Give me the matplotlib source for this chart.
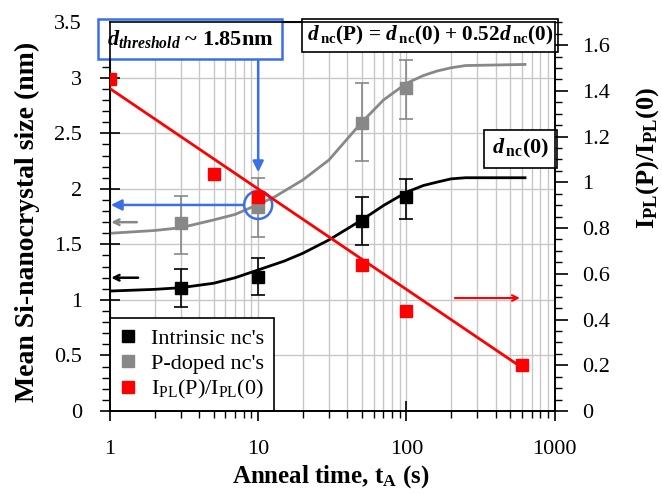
import matplotlib
matplotlib.use("Agg")
import matplotlib.pyplot as plt
import matplotlib.transforms as mtrans
from matplotlib.ticker import MultipleLocator, NullFormatter

plt.rcParams['font.family'] = ['Liberation Serif', 'DejaVu Serif']
plt.rcParams['mathtext.fontset'] = 'custom'
plt.rcParams['mathtext.rm'] = 'Liberation Serif'
plt.rcParams['mathtext.it'] = 'Liberation Serif:italic'
plt.rcParams['mathtext.bf'] = 'Liberation Serif:bold'
plt.rcParams['mathtext.bfit'] = 'Liberation Serif:bold:italic'

# Data
t_intr = [3, 10, 50, 100]
d_intr = [1.11, 1.21, 1.71, 1.93]
d_intr_lo = [0.94, 1.04, 1.49, 1.73]
d_intr_hi = [1.28, 1.38, 1.93, 2.09]

t_p = [3, 10, 50, 100]
d_p = [1.69, 1.84, 2.59, 2.91]
d_p_lo = [1.41, 1.57, 2.25, 2.63]
d_p_hi = [1.94, 2.10, 2.95, 3.16]

t_pl = [1, 5, 10, 50, 100, 600]
r_pl = [1.45, 1.035, 0.935, 0.638, 0.437, 0.20]

t_curve_i = [1, 2, 3, 5, 7, 10, 15, 20, 30, 50, 70, 100, 130, 160, 200, 250, 630]
c_intr = [1.08, 1.095, 1.11, 1.15, 1.20, 1.27, 1.35, 1.42, 1.54, 1.72, 1.85, 1.97, 2.03, 2.06, 2.09, 2.10, 2.10]

t_curve_p = [1, 2, 3, 5, 7, 10, 13, 20, 30, 50, 70, 100, 130, 160, 200, 250, 630]
c_p = [1.60, 1.625, 1.65, 1.72, 1.77, 1.86, 1.93, 2.08, 2.26, 2.60, 2.80, 2.95, 3.02, 3.06, 3.09, 3.11, 3.12]

t_fit = [1, 600]
r_fit = [1.41, 0.19]

fig = plt.figure(figsize=(6.62, 4.94), dpi=100)
ax = fig.add_axes([0.166, 0.168, 0.672, 0.787])
ax2 = ax.twinx()

ax.set_xscale('log')
ax.set_xlim(1, 1000)
ax.set_ylim(0, 3.5)
ax2.set_ylim(0, 1.7)

ax.grid(True, which='both', axis='x', color='#c8c8c8', lw=1)
ax.grid(True, which='major', axis='y', color='#c8c8c8', lw=1)
ax.set_axisbelow(True)

ax.plot(t_curve_p, c_p, color='#888888', lw=2, zorder=3)
ax.plot(t_curve_i, c_intr, color='black', lw=2, zorder=3)

ax.errorbar(t_p, d_p, yerr=[[a - b for a, b in zip(d_p, d_p_lo)], [b - a for a, b in zip(d_p, d_p_hi)]],
            fmt='none', ecolor='#888888', elinewidth=1.2, capsize=5, capthick=1.2, zorder=3)
ax.errorbar(t_intr, d_intr, yerr=[[a - b for a, b in zip(d_intr, d_intr_lo)], [b - a for a, b in zip(d_intr, d_intr_hi)]],
            fmt='none', ecolor='black', elinewidth=1.2, capsize=5, capthick=1.2, zorder=3)

h1, = ax.plot(t_intr, d_intr, 's', color='black', ms=9, zorder=4, label="Intrinsic nc's")
h2, = ax.plot(t_p, d_p, 's', color='#888888', ms=9, zorder=4, label="P-doped nc's")

ax2.plot(t_fit, r_fit, color='red', lw=2, zorder=3)
h3, = ax2.plot(t_pl, r_pl, 's', color='red', ms=9, zorder=4, label=r"I$_{\rm PL}$(P)/I$_{\rm PL}$(0)")

# ticks
ax.set_yticks([0, 0.5, 1, 1.5, 2, 2.5, 3, 3.5])
ax.set_yticklabels(['0', '0.5', '1', '1.5', '2', '2.5', '3', '3.5'])
ax.yaxis.set_minor_locator(MultipleLocator(0.1))
ax.set_xticks([1, 10, 100, 1000])
ax.set_xticklabels(['1', '10', '100', '1000'])
ax.xaxis.set_minor_formatter(NullFormatter())
ax2.set_yticks([0, 0.2, 0.4, 0.6, 0.8, 1.0, 1.2, 1.4, 1.6])
ax2.set_yticklabels(['0', '0.2', '0.4', '0.6', '0.8', '1', '1.2', '1.4', '1.6'])
ax2.yaxis.set_minor_locator(MultipleLocator(0.05))

ax.tick_params(axis='x', which='major', direction='inout', length=14, width=1.2, labelsize=16, pad=14)
ax.tick_params(axis='x', which='minor', direction='out', length=5, width=1)
ax.tick_params(axis='y', which='major', direction='inout', length=14, width=1.2, labelsize=16, pad=13)
ax.tick_params(axis='y', which='minor', direction='out', length=6, width=1)
ax2.tick_params(axis='y', which='major', direction='out', length=9, width=1.2, labelsize=16, pad=11)
ax2.tick_params(axis='y', which='minor', direction='out', length=5, width=1)

for s in ax.spines.values():
    s.set_linewidth(1.2)
for s in ax2.spines.values():
    s.set_linewidth(1.2)

ax.set_xlabel(r"Anneal time, t$_{\mathbf{A}}$ (s)", fontsize=18, fontweight='bold')
ax.xaxis.set_label_coords(0.497, -0.135)
ax.set_ylabel("Mean Si-nanocrystal size (nm)", fontsize=20, fontweight='bold')
ax.yaxis.set_label_coords(-0.157, 0.486)
ax2.set_ylabel(r"I$_{\mathbf{PL}}$(P)/I$_{\mathbf{PL}}$(0)", fontsize=19, fontweight='bold')
ax2.yaxis.set_label_coords(1.178, 0.65)

leg = ax.legend(handles=[h1, h2, h3], loc='lower left', bbox_to_anchor=(0.0, 0.0),
                borderaxespad=0.0, fontsize=16, frameon=True, fancybox=False, edgecolor='black',
                handlelength=0.7, handletextpad=0.7, borderpad=0.45, labelspacing=0.2,
                framealpha=1)
leg.get_frame().set_linewidth(1.2)
leg.set_zorder(10)

# Annotations
blue = '#3a6fe8'
ax.text(3.46, 3.35, r"$\mathbfit{d}_{\mathbfit{threshold}}$ ~ 1.85nm", fontsize=16, fontweight='bold',
        ha='center', va='center', zorder=11,
        bbox=dict(boxstyle='square,pad=0.4', fc='white', ec=blue, lw=1.8))
ax.annotate('', xy=(10, 2.15), xytext=(10, 3.15),
            arrowprops=dict(arrowstyle='-|>', color=blue, lw=1.8, mutation_scale=16,
                            shrinkA=0, shrinkB=0), zorder=5)
ax.annotate('', xy=(1.015, 1.855), xytext=(8.0, 1.855),
            arrowprops=dict(arrowstyle='-|>', color=blue, lw=1.8, mutation_scale=16,
                            shrinkA=0, shrinkB=0), zorder=5)
tr = fig.dpi_scale_trans + mtrans.ScaledTranslation(10, 1.855, ax.transData)
c = plt.Circle((0, 0), 0.14, transform=tr, fill=False, ec=blue, lw=1.8, zorder=6)
ax.add_artist(c)

ax.text(144, 3.38, r"$\mathbfit{d}\,_{\mathbf{nc}}$(P) = $\mathbfit{d}\,_{\mathbf{nc}}$(0) + 0.52$\mathbfit{d}\,_{\mathbf{nc}}$(0)",
        fontsize=15.3, fontweight='bold', ha='center', va='center', zorder=11,
        bbox=dict(boxstyle='square,pad=0.22', fc='white', ec='black', lw=1.2))
ax.text(590, 2.36, r"$\mathbfit{d}\,_{\mathbf{nc}}$(0)", fontsize=16, fontweight='bold',
        ha='center', va='center', zorder=11,
        bbox=dict(boxstyle='square,pad=0.35', fc='white', ec='black', lw=1.2))

# small arrows
ax.annotate('', xy=(1.02, 1.70), xytext=(1.52, 1.70),
            arrowprops=dict(arrowstyle='->', color='#888888', lw=1.8, shrinkA=0, shrinkB=0), zorder=5)
ax.annotate('', xy=(1.02, 1.20), xytext=(1.55, 1.20),
            arrowprops=dict(arrowstyle='->', color='black', lw=1.8, shrinkA=0, shrinkB=0), zorder=5)
ax2.annotate('', xy=(582, 0.494), xytext=(212, 0.494),
             arrowprops=dict(arrowstyle='->', color='red', lw=1.5, shrinkA=0, shrinkB=0), zorder=5)

fig.savefig('out.png', dpi=100)
